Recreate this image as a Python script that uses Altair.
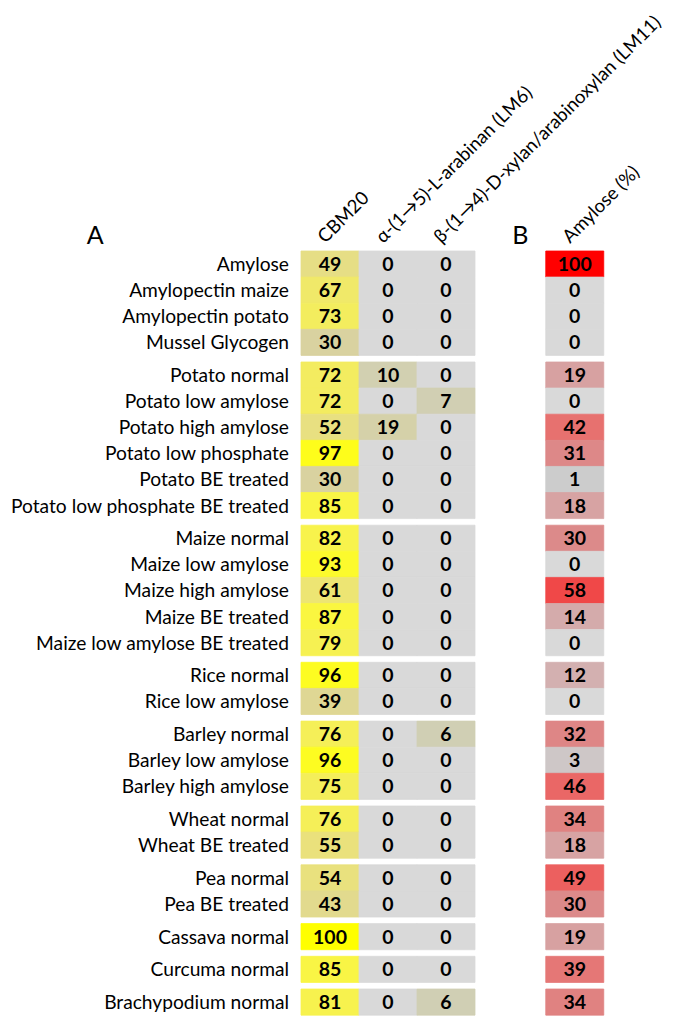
import altair as alt
import pandas as pd

samples = [
    "Amylose", "Amylopectin maize", "Amylopectin potato", "Mussel Glycogen",
    "Potato normal", "Potato low amylose", "Potato high amylose", "Potato low phosphate",
    "Potato BE treated", "Potato low phosphate BE treated",
    "Maize normal", "Maize low amylose", "Maize high amylose", "Maize BE treated",
    "Maize low amylose BE treated",
    "Rice  normal", "Rice low amylose",
    "Barley normal", "Barley low amylose", "Barley high amylose",
    "Wheat normal", "Wheat BE treated",
    "Pea normal", "Pea BE treated",
    "Cassava normal", "Curcuma normal", "Brachypodium normal",
]
groups = [0, 0, 0, 0, 1, 1, 1, 1, 1, 1, 2, 2, 2, 2, 2, 3, 3, 4, 4, 4, 5, 5, 6, 6, 7, 8, 9]
cbm20 = [49, 67, 73, 30, 72, 72, 52, 97, 30, 85, 82, 93, 61, 87, 79, 96, 39, 76, 96, 75,
         76, 55, 54, 43, 100, 85, 81]
lm6 = [0, 0, 0, 0, 10, 0, 19, 0, 0, 0, 0, 0, 0, 0, 0, 0, 0, 0, 0, 0, 0, 0, 0, 0, 0, 0, 0]
lm11 = [0, 0, 0, 0, 0, 7, 0, 0, 0, 0, 0, 0, 0, 0, 0, 0, 0, 6, 0, 0, 0, 0, 0, 0, 0, 0, 6]
amylose = [100, 0, 0, 0, 19, 0, 42, 31, 1, 18, 30, 0, 58, 14, 0, 12, 0, 32, 3, 46,
           34, 18, 49, 30, 19, 39, 34]
columns = ["CBM20", "α-(1→5)-L-arabinan (LM6)", "β-(1→4)-D-xylan/arabinoxylan (LM11)",
           "Amylose (%)"]
panels = ["A", "A", "A", "B"]
panel_labels = ["A", "B"]

# layout constants (scale units: one column width / one row height)
COL_OFFSET = [0, 1, 2, 4.22]
GAP = 0.253
W, H = 669, 1011
COL_PX, ROW_PX = 58.0, 26.1
X0_PX, Y0_PX = 293.0, 243.0
xdom = [-X0_PX / COL_PX, (W - X0_PX) / COL_PX]
ydom = [-Y0_PX / ROW_PX, (H - Y0_PX) / ROW_PX]

series = [cbm20, lm6, lm11, amylose]
cells = []
row_rows = []
for i, s in enumerate(samples):
    top = i + groups[i] * GAP
    row_rows.append({"sample": s, "yc": top + 0.5, "lx": 0})
    for c, col in enumerate(columns):
        cells.append({
            "sample": s, "col": col, "panel": panels[c], "value": series[c][i],
            "x0": COL_OFFSET[c], "x1": COL_OFFSET[c] + 1, "xc": COL_OFFSET[c] + 0.5,
            "y0": top, "y1": top + 1, "yc": top + 0.5,
        })
cells = pd.DataFrame(cells)
rows = pd.DataFrame(row_rows)
heads = pd.DataFrame({"col": columns,
                      "xh": [o + 0.42 for o in COL_OFFSET],
                      "yh": [-0.27] * len(columns)})
plabels = pd.DataFrame({"label": panel_labels, "xp": [-3.55, 3.78], "yp": [-0.25, -0.25]})

xs = alt.Scale(domain=xdom, nice=False, zero=False)
ys = alt.Scale(domain=ydom, nice=False, zero=False, reverse=True)
FONT = "Lato"

scale_a = alt.Scale(domain=[0, 5, 30, 100],
                    range=["#d9d9d9", "#d0cfb5", "#d9d2a0", "#ffff00"])
scale_b = alt.Scale(domain=[0, 1, 14, 30, 58, 100],
                    range=["#d9d9d9", "#cccccc", "#d4abab", "#dc8a8a", "#f04848", "#ff0000"])

base = alt.Chart(cells)


def rect_layer(panel, sc):
    return base.transform_filter(alt.datum.panel == panel).mark_rect(strokeWidth=0.8).encode(
        x=alt.X("x0:Q", scale=xs, axis=None),
        x2="x1:Q",
        y=alt.Y("y0:Q", scale=ys, axis=None),
        y2="y1:Q",
        color=alt.Color("value:Q", legend=None, scale=sc),
        stroke=alt.Stroke("value:Q", legend=None, scale=sc),
    )


rect_a = rect_layer("A", scale_a)
rect_b = rect_layer("B", scale_b)

values = base.mark_text(font=FONT, fontSize=19.5, fontWeight="bold", color="black",
                        baseline="middle", dy=1).encode(
    x=alt.X("xc:Q", scale=xs, axis=None),
    y=alt.Y("yc:Q", scale=ys, axis=None),
    text="value:Q",
)
labels = alt.Chart(rows).mark_text(font=FONT, fontSize=19.2, color="black", align="right",
                                   baseline="middle", dx=-12, dy=1).encode(
    x=alt.X("lx:Q", scale=xs, axis=None),
    y=alt.Y("yc:Q", scale=ys, axis=None),
    text="sample:N",
)
headers = alt.Chart(heads).mark_text(font=FONT, fontSize=18.6, color="black", align="left",
                                     baseline="alphabetic", angle=315).encode(
    x=alt.X("xh:Q", scale=xs, axis=None),
    y=alt.Y("yh:Q", scale=ys, axis=None),
    text="col:N",
)
plab = alt.Chart(plabels).mark_text(font=FONT, fontSize=25, color="black", align="center",
                                    baseline="alphabetic").encode(
    x=alt.X("xp:Q", scale=xs, axis=None),
    y=alt.Y("yp:Q", scale=ys, axis=None),
    text="label:N",
)

chart = alt.layer(rect_a, rect_b, values, labels, headers, plab).resolve_scale(
    color="independent", stroke="independent"
).properties(
    width=W, height=H, autosize=alt.AutoSizeParams(type="none"), padding=0
).configure_view(stroke=None)

chart.save("out.html", embed_options={"renderer": "svg", "actions": False})
